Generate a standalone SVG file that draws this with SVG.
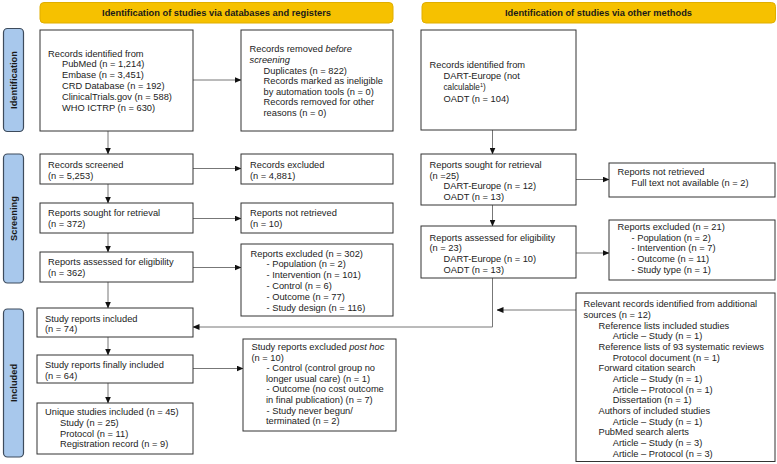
<svg xmlns="http://www.w3.org/2000/svg" width="777" height="464" viewBox="0 0 777 464">
<defs>
<marker id="ah" markerUnits="userSpaceOnUse" markerWidth="7" markerHeight="6" refX="6.5" refY="3" orient="auto">
<path d="M0,0 L7,3 L0,6 Z" fill="#111"/>
</marker>
<style>
.hdr{fill:#F6C100;stroke:#E0AE00;stroke-width:1}
.hdt{font-family:"Liberation Sans",Arial,sans-serif;font-size:9.3px;font-weight:bold;fill:#1a1a1a;text-anchor:middle}
.side{fill:#A8C8EC;stroke:#3d4b5c;stroke-width:1.2}
.sdt{font-family:"Liberation Sans",Arial,sans-serif;font-size:9.3px;font-weight:bold;fill:#1a1a1a;text-anchor:middle}
.box{fill:#fff;stroke:#333;stroke-width:1}
.t{font-family:"Liberation Sans",Arial,sans-serif;font-size:9.3px;fill:#222}
.sm{font-size:8.2px}
.con{fill:none;stroke:#777;stroke-width:1}
.arr{marker-end:url(#ah)}
</style>
</defs>
<rect width="777" height="464" fill="#fff"/>

<g id="header-left"><rect class="hdr" x="40" y="2.5" width="353" height="20.5" rx="4"/><text class="hdt" x="216.5" y="16">Identification of studies via databases and registers</text></g>
<g id="header-right"><rect class="hdr" x="422" y="2.5" width="353.5" height="20.5" rx="4"/><text class="hdt" x="598.5" y="16">Identification of studies via other methods</text></g>

<g id="side-identification"><rect class="side" x="3.5" y="28.5" width="20" height="103" rx="4"/><text class="sdt" transform="translate(16.8,80) rotate(-90)">Identification</text></g>
<g id="side-screening"><rect class="side" x="3.5" y="154" width="20" height="129" rx="4"/><text class="sdt" transform="translate(16.8,218.5) rotate(-90)">Screening</text></g>
<g id="side-included"><rect class="side" x="3.5" y="309" width="20" height="148" rx="4"/><text class="sdt" transform="translate(16.8,383) rotate(-90)">Included</text></g>

<g id="connectors">
<line class="con arr" x1="108" y1="131" x2="108" y2="154"/>
<line class="con arr" x1="193" y1="80" x2="241" y2="80"/>
<line class="con arr" x1="108" y1="184" x2="108" y2="203"/>
<line class="con arr" x1="193" y1="168.5" x2="241" y2="168.5"/>
<line class="con arr" x1="108" y1="233" x2="108" y2="252"/>
<line class="con arr" x1="193" y1="218.5" x2="241" y2="218.5"/>
<line class="con arr" x1="108" y1="282" x2="108" y2="308"/>
<line class="con arr" x1="193" y1="267.5" x2="241" y2="267.5"/>
<line class="con arr" x1="108" y1="337" x2="108" y2="355"/>
<line class="con arr" x1="193" y1="368.5" x2="243" y2="368.5"/>
<line class="con arr" x1="108" y1="383" x2="108" y2="403"/>
<line class="con arr" x1="492.5" y1="130" x2="492.5" y2="154"/>
<line class="con arr" x1="576" y1="179.5" x2="609" y2="179.5"/>
<line class="con arr" x1="492.5" y1="205" x2="492.5" y2="226"/>
<line class="con arr" x1="576" y1="253" x2="609" y2="253"/>
<polyline class="con arr" points="492.5,278 492.5,327 193,327"/>
<line class="con arr" x1="576" y1="310" x2="497" y2="310"/>
</g>

<g id="n-records-identified">
<rect class="box" x="40" y="30" width="153" height="101"/>
<text class="t"><tspan x="48" y="56.6">Records identified from</tspan><tspan x="62" y="67.4">PubMed (n = 1,214)</tspan><tspan x="62" y="78.2">Embase (n = 3,451)</tspan><tspan x="62" y="89">CRD Database (n = 192)</tspan><tspan x="62" y="99.8">ClinicalTrials.gov (n = 588)</tspan><tspan x="62" y="110.6">WHO ICTRP (n = 630)</tspan></text>
</g>
<g id="n-records-removed">
<rect class="box" x="241" y="30" width="152" height="101"/>
<text class="t"><tspan x="249.5" y="52.3">Records removed <tspan font-style="italic">before</tspan></tspan><tspan x="249.5" y="62.9" font-style="italic">screening</tspan><tspan x="263.5" y="73.5">Duplicates (n = 822)</tspan><tspan x="263.5" y="84.1">Records marked as ineligible</tspan><tspan x="263.5" y="94.7">by automation tools (n = 0)</tspan><tspan x="263.5" y="105.3">Records removed for other</tspan><tspan x="263.5" y="115.9">reasons (n = 0)</tspan></text>
</g>
<g id="n-records-screened">
<rect class="box" x="40" y="154" width="153" height="30"/>
<text class="t"><tspan x="48" y="168.3">Records screened</tspan><tspan x="48" y="178.8">(n = 5,253)</tspan></text>
</g>
<g id="n-records-excluded">
<rect class="box" x="241" y="154" width="152" height="30"/>
<text class="t"><tspan x="250" y="168.3">Records excluded</tspan><tspan x="250" y="178.8">(n = 4,881)</tspan></text>
</g>
<g id="n-reports-sought">
<rect class="box" x="40" y="203" width="153" height="30"/>
<text class="t"><tspan x="48" y="216">Reports sought for retrieval</tspan><tspan x="48" y="226.5">(n = 372)</tspan></text>
</g>
<g id="n-reports-not-retrieved">
<rect class="box" x="241" y="203" width="152" height="30"/>
<text class="t"><tspan x="250" y="216">Reports not retrieved</tspan><tspan x="250" y="226.5">(n = 10)</tspan></text>
</g>
<g id="n-reports-assessed">
<rect class="box" x="40" y="252" width="153" height="30"/>
<text class="t"><tspan x="48" y="265">Reports assessed for eligibility</tspan><tspan x="48" y="275.8">(n = 362)</tspan></text>
</g>
<g id="n-reports-excluded">
<rect class="box" x="241" y="244" width="152" height="72"/>
<text class="t"><tspan x="250.5" y="256.6">Reports excluded (n = 302)</tspan><tspan x="266.5" y="267.4">- Population (n = 2)</tspan><tspan x="266.5" y="278.2">- Intervention (n = 101)</tspan><tspan x="266.5" y="289">- Control (n = 6)</tspan><tspan x="266.5" y="299.8">- Outcome (n = 77)</tspan><tspan x="266.5" y="310.6">- Study design (n = 116)</tspan></text>
</g>
<g id="n-study-reports-included">
<rect class="box" x="37" y="308" width="156" height="29"/>
<text class="t"><tspan x="45" y="321.6">Study reports included</tspan><tspan x="45" y="332.4">(n = 74)</tspan></text>
</g>
<g id="n-study-reports-finally">
<rect class="box" x="37" y="355" width="156" height="28"/>
<text class="t"><tspan x="45" y="368.3">Study reports finally included</tspan><tspan x="45" y="379">(n = 64)</tspan></text>
</g>
<g id="n-post-hoc">
<rect class="box" x="243" y="339" width="153" height="92"/>
<text class="t"><tspan x="251.5" y="350">Study reports excluded <tspan font-style="italic">post hoc</tspan></tspan><tspan x="251.5" y="360.6">(n = 10)</tspan><tspan x="266.5" y="371.2">- Control (control group no</tspan><tspan x="266" y="381.8">longer usual care) (n = 1)</tspan><tspan x="266.5" y="392.4">- Outcome (no cost outcome</tspan><tspan x="266" y="403">in final publication) (n = 7)</tspan><tspan x="266.5" y="413.6">- Study never begun/</tspan><tspan x="266" y="424.2">terminated (n = 2)</tspan></text>
</g>
<g id="n-unique-studies">
<rect class="box" x="37" y="403" width="156" height="51"/>
<text class="t"><tspan x="45" y="415">Unique studies included (n = 45)</tspan><tspan x="60" y="425.8">Study (n = 25)</tspan><tspan x="60" y="436.6">Protocol (n = 11)</tspan><tspan x="60" y="447.4">Registration record (n = 9)</tspan></text>
</g>

<g id="n-other-records-identified">
<rect class="box" x="421" y="30" width="155" height="100"/>
<text class="t"><tspan x="429.5" y="68.3">Records identified from</tspan><tspan x="443.5" y="79.3">DART-Europe (not</tspan><tspan x="443.5" y="89.8" class="sm">calculable<tspan dy="-3" font-size="5.5px">1</tspan><tspan dy="3">)</tspan></tspan><tspan x="443.5" y="101.6">OADT (n = 104)</tspan></text>
</g>
<g id="n-other-reports-sought">
<rect class="box" x="421" y="154" width="155" height="51"/>
<text class="t"><tspan x="429.5" y="168.3">Reports sought for retrieval</tspan><tspan x="429.5" y="178.7">(n =25)</tspan><tspan x="443.5" y="189.1">DART-Europe (n = 12)</tspan><tspan x="443.5" y="199.5">OADT (n = 13)</tspan></text>
</g>
<g id="n-other-not-retrieved">
<rect class="box" x="609" y="163" width="166" height="34"/>
<text class="t"><tspan x="617.5" y="175">Reports not retrieved</tspan><tspan x="631.5" y="185.9">Full text not available (n = 2)</tspan></text>
</g>
<g id="n-other-assessed">
<rect class="box" x="421" y="226" width="155" height="52"/>
<text class="t"><tspan x="429.5" y="240.6">Reports assessed for eligibility</tspan><tspan x="429.5" y="251.3">(n = 23)</tspan><tspan x="443.5" y="262">DART-Europe (n = 10)</tspan><tspan x="443.5" y="272.7">OADT (n = 13)</tspan></text>
</g>
<g id="n-other-excluded">
<rect class="box" x="609" y="220" width="166" height="60"/>
<text class="t"><tspan x="617.5" y="230">Reports excluded (n = 21)</tspan><tspan x="631.5" y="240.7">- Population (n = 2)</tspan><tspan x="631.5" y="251.4">- Intervention (n = 7)</tspan><tspan x="631.5" y="262.1">- Outcome (n = 11)</tspan><tspan x="631.5" y="272.8">- Study type (n = 1)</tspan></text>
</g>
<g id="n-additional-sources">
<rect class="box" x="576" y="293" width="199" height="168.5"/>
<text class="t"><tspan x="583.5" y="307.3">Relevant records identified from additional</tspan><tspan x="583.5" y="317.96">sources (n = 12)</tspan><tspan x="598.5" y="328.62">Reference lists included studies</tspan><tspan x="612.7" y="339.28">Article – Study (n = 1)</tspan><tspan x="598.5" y="349.94">Reference lists of 93 systematic reviews</tspan><tspan x="612.7" y="360.6">Protocol document (n = 1)</tspan><tspan x="598.5" y="371.26">Forward citation search</tspan><tspan x="612.7" y="381.92">Article – Study (n = 1)</tspan><tspan x="612.7" y="392.58">Article – Protocol (n = 1)</tspan><tspan x="612.7" y="403.24">Dissertation (n = 1)</tspan><tspan x="598.5" y="413.9">Authors of included studies</tspan><tspan x="612.7" y="424.56">Article – Study (n = 1)</tspan><tspan x="598.5" y="435.22">PubMed search alerts</tspan><tspan x="612.7" y="445.88">Article – Study (n = 3)</tspan><tspan x="612.7" y="456.54">Article – Protocol (n = 3)</tspan></text>
</g>
</svg>
